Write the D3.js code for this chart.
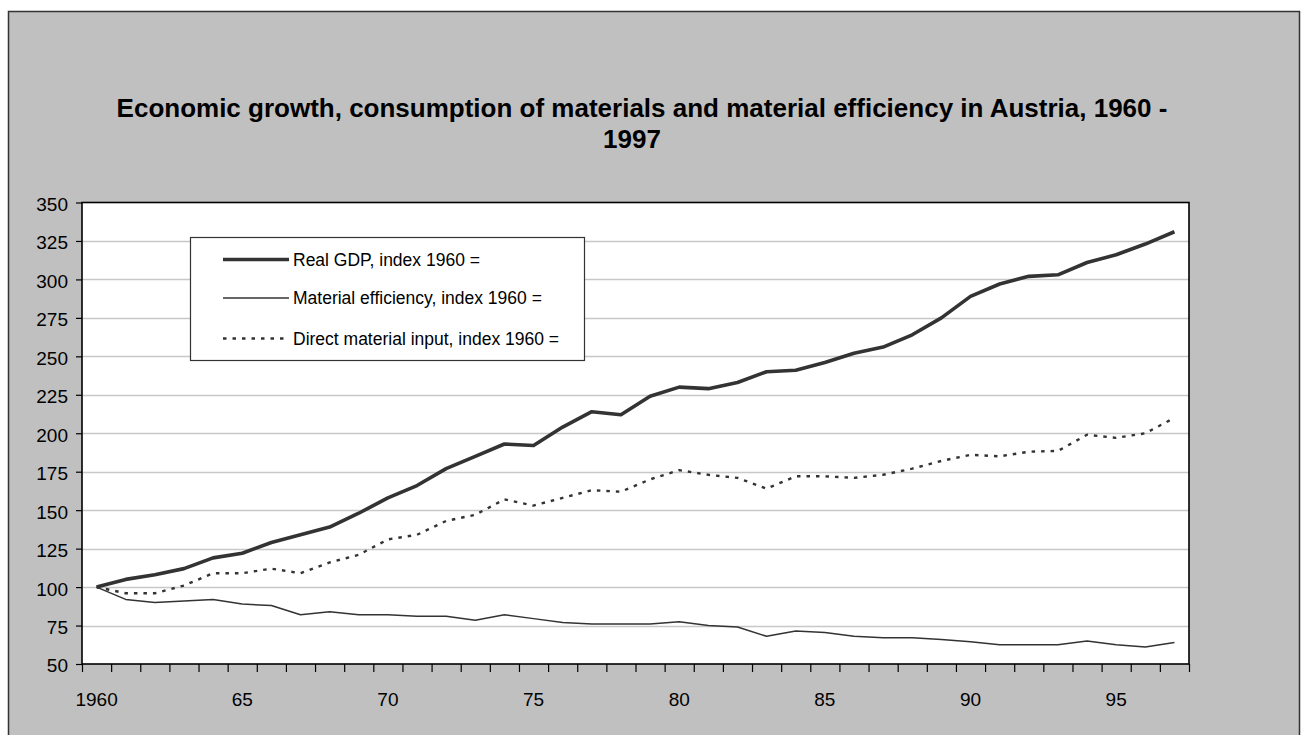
<!DOCTYPE html>
<html>
<head>
<meta charset="utf-8">
<script src="https://cdn.jsdelivr.net/npm/d3@7"></script>
<style>
  html, body { margin: 0; padding: 0; background: #ffffff; }
  svg { display: block; font-family: "Liberation Sans", Arial, Helvetica, sans-serif; }
</style>
</head>
<body>
<svg id="chart" width="1301" height="735"></svg>
<script>
// Years on the category axis
const years = d3.range(1960, 1998);

// Real GDP, index 1960 = 100
const gdp = [100, 105, 108, 112, 119, 122, 129, 134, 139, 148,
             158, 166, 177, 185, 193, 192, 204, 214, 212, 224,
             230, 229, 233, 240, 241, 246, 252, 256, 264, 275,
             289, 297, 302, 303, 311, 316, 323, 331];

// Material efficiency, index 1960 = 100
const efficiency = [100, 92, 90, 91, 92, 89, 88, 82, 84, 82,
                    82, 81, 81, 78.5, 82, 79.5, 77, 76, 76, 76,
                    77.5, 75, 74, 68, 71.5, 70.5, 68, 67, 67, 66,
                    64.5, 62.5, 62.5, 62.5, 65, 62.5, 61, 64];

// Direct material input, index 1960 = 100
const dmi = [100, 96, 96, 101, 109, 109, 112, 109, 116, 121,
             131, 134, 143, 147, 157, 153, 158, 163, 162, 170,
             176, 173, 171, 164, 172, 172, 171, 173, 177, 182,
             186, 185, 188, 188.5, 199, 197, 200, 210];

// Axis tick labels
const yTicks = [50, 75, 100, 125, 150, 175, 200, 225, 250, 275, 300, 325, 350];
const xLabelYears = [1960, 1965, 1970, 1975, 1980, 1985, 1990, 1995];
const xLabelText = ["1960", "65", "70", "75", "80", "85", "90", "95"];

const seriesNames = ["Real GDP, index 1960 =", "Material efficiency, index 1960 =", "Direct material input, index 1960 ="];

const svg = d3.select("#chart");
const ink = "#333333";

// Outer chart frame
svg.append("rect")
  .attr("x", 8.5).attr("y", 11.5).attr("width", 1291).attr("height", 740)
  .attr("fill", "#c0c0c0").attr("stroke", ink).attr("stroke-width", 1.5);

// Title
const title = svg.append("g").attr("font-weight", "bold").attr("font-size", 26).attr("fill", "#000");
title.append("text").attr("x", 642).attr("y", 117).attr("text-anchor", "middle")
  .text("Economic growth, consumption of materials and material efficiency in Austria, 1960 -");
title.append("text").attr("x", 632).attr("y", 147.5).attr("text-anchor", "middle")
  .text("1997");

// Plot area
const plot = { left: 82, right: 1189, top: 202.5, bottom: 664 };

const x = d3.scaleBand().domain(years).range([plot.left, plot.right]).padding(0);
const xEdge = d3.scaleLinear().domain([0, years.length]).range([plot.left, plot.right]);
const y = d3.scaleLinear().domain([50, 350]).range([plot.bottom, plot.top]);
const cx = yr => x(yr) + x.bandwidth() / 2;

svg.append("rect")
  .attr("x", plot.left).attr("y", plot.top)
  .attr("width", plot.right - plot.left).attr("height", plot.bottom - plot.top)
  .attr("fill", "#ffffff");

// Horizontal gridlines
svg.append("g")
  .selectAll("line")
  .data(yTicks.filter(v => v > 50 && v < 350))
  .join("line")
  .attr("x1", plot.left).attr("x2", plot.right)
  .attr("y1", d => Math.round(y(d)) + 0.5).attr("y2", d => Math.round(y(d)) + 0.5)
  .attr("stroke", "#c8c8c8").attr("stroke-width", 1.3);

// Y axis
const yAxis = svg.append("g")
  .attr("transform", `translate(${plot.left},0)`)
  .call(d3.axisLeft(y).tickValues(yTicks).tickSize(6).tickPadding(8));
yAxis.select(".domain").remove();
yAxis.selectAll(".tick line").attr("stroke", "#000").attr("stroke-width", 1.2);
yAxis.selectAll(".tick text").attr("font-size", 19).attr("fill", "#000")
  .attr("font-family", "Liberation Sans, Arial, sans-serif").attr("dy", "0.42em");

// X axis: boundary ticks between categories
const xTickAxis = svg.append("g")
  .attr("transform", `translate(0,${plot.bottom})`)
  .call(d3.axisBottom(xEdge).tickValues(d3.range(0, years.length + 1)).tickSize(8).tickFormat(""));
xTickAxis.select(".domain").remove();
xTickAxis.selectAll(".tick line").attr("stroke", "#000").attr("stroke-width", 1.2);

// X axis: year labels centred in their categories
const xLabelAxis = svg.append("g")
  .attr("transform", `translate(0,${plot.bottom})`)
  .call(d3.axisBottom(x).tickValues(xLabelYears).tickSize(0).tickPadding(29)
    .tickFormat((d, i) => xLabelText[i]));
xLabelAxis.select(".domain").remove();
xLabelAxis.selectAll(".tick text").attr("font-size", 19).attr("fill", "#000")
  .attr("font-family", "Liberation Sans, Arial, sans-serif");

// Plot border
svg.append("rect")
  .attr("x", plot.left).attr("y", plot.top)
  .attr("width", plot.right - plot.left).attr("height", plot.bottom - plot.top)
  .attr("fill", "none").attr("stroke", "#000").attr("stroke-width", 1.6);

// Series lines
const series = [
  { values: gdp, width: 3.6, dash: null },
  { values: efficiency, width: 1.5, dash: null },
  { values: dmi, width: 2.4, dash: "3.5,6" }
];

const line = d3.line().x((d, i) => cx(years[i])).y(d => y(d));

svg.append("g")
  .selectAll("path")
  .data(series)
  .join("path")
  .attr("d", d => line(d.values))
  .attr("fill", "none")
  .attr("stroke", ink)
  .attr("stroke-width", d => d.width)
  .attr("stroke-dasharray", d => d.dash)
  .attr("stroke-linejoin", "round");

// Legend
const legend = svg.append("g");
legend.append("rect")
  .attr("x", 190.5).attr("y", 237.5).attr("width", 394).attr("height", 123)
  .attr("fill", "#ffffff").attr("stroke", ink).attr("stroke-width", 1.2);

const legendRows = [259.5, 298, 338.5];
const legendItems = legend.selectAll("g.item")
  .data(series)
  .join("g")
  .attr("class", "item")
  .attr("transform", (d, i) => `translate(0,${legendRows[i]})`);

legendItems.append("line")
  .attr("x1", 223).attr("x2", 289).attr("y1", 0).attr("y2", 0)
  .attr("stroke", ink)
  .attr("stroke-width", d => d.width)
  .attr("stroke-dasharray", d => d.dash);

legendItems.append("text")
  .attr("x", 293).attr("y", 0).attr("dy", "0.36em")
  .attr("font-size", 17.5).attr("fill", "#000")
  .text((d, i) => seriesNames[i]);
</script>
</body>
</html>
